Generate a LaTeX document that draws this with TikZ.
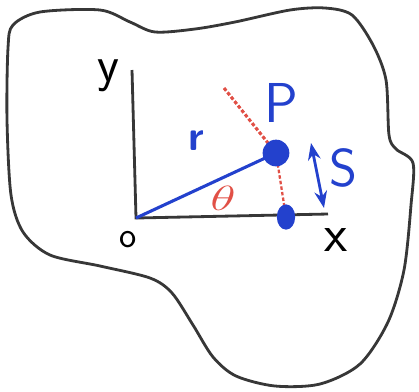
\documentclass[tikz,border=0pt]{standalone}
\usetikzlibrary{arrows.meta,shapes.geometric}
\definecolor{inkblue}{RGB}{35,65,205}
\definecolor{inkred}{RGB}{225,80,70}
\definecolor{inkgray}{RGB}{55,55,55}
\tikzset{
  hand/.style={font=\sffamily, inner sep=0pt},
  bluedot/.style={fill=inkblue, ellipse, inner sep=0pt},
  reddash/.style={inkred, dash pattern=on 2.5pt off 1.5pt},
}
\begin{document}
\begin{tikzpicture}[x=0.025cm,y=-0.025cm,>=Stealth]
  \useasboundingbox (0,0) rectangle (419,391);

  % outline of the region
  \draw[inkgray,line width=2pt] plot[smooth cycle,tension=0.5] coordinates {
    (13,25) (40,12) (100,10) (130,22) (155,32) (195,29) (235,22) (290,10)
    (325,8) (352,15) (373,45) (386,80) (389,135) (396,149) (413,163)
    (411,205) (404,270) (388,322) (360,364) (320,384) (275,386) (236,376)
    (213,357) (193,325) (172,293) (150,278) (100,266) (50,255) (23,232)
    (11,195) (7,120) (8,48)};

  % axes
  \coordinate (O) at (136,218);
  \coordinate (ytop) at (132,70);
  \coordinate (xend) at (328,214);
  \draw[inkgray,line width=2pt] (ytop) -- (O) -- (xend);
  \node[hand,font=\sffamily\fontsize{36}{38}\selectfont] (ylbl) at (108,76) {y};
  \node[hand,font=\sffamily\fontsize{38}{40}\selectfont] (xlbl) at (336,240) {x};
  \node[hand,font=\sffamily\fontsize{26}{28}\selectfont] (olbl) at (128,240) {o};

  % point P and its foot
  \coordinate (redstart) at (224,88);
  \coordinate (Pc) at (276,153);
  \coordinate (Qc) at (286,217);
  \draw[reddash,line width=2.2pt] (redstart) -- (Pc);
  \draw[reddash,line width=1.6pt] (Pc) -- (Qc);
  \draw[inkblue,line width=2.2pt] (O) -- (Pc);
  \node[bluedot,minimum width=19pt,minimum height=19pt] (P) at (Pc) {};
  \node[bluedot,minimum width=13pt,minimum height=18pt] (Q) at (Qc) {};
  \node[hand,text=inkblue,font=\sffamily\bfseries\fontsize{30}{32}\selectfont] (rlbl) at (196,141) {r};
  \node[hand,text=inkblue,font=\sffamily\fontsize{40}{42}\selectfont] (Plbl) at (281,103) {P};

  % angle
  \node[hand,text=inkred,xscale=1.5,font=\fontsize{32}{34}\selectfont] (theta) at (223,198) {$\theta$};

  % arc length
  \coordinate (s1) at (311,143);
  \coordinate (s2) at (324,208);
  \draw[inkblue,line width=2pt,<->] (s1) -- (s2);
  \node[hand,text=inkblue,font=\sffamily\fontsize{38}{40}\selectfont] (slbl) at (343,168) {S};
\end{tikzpicture}
\end{document}
